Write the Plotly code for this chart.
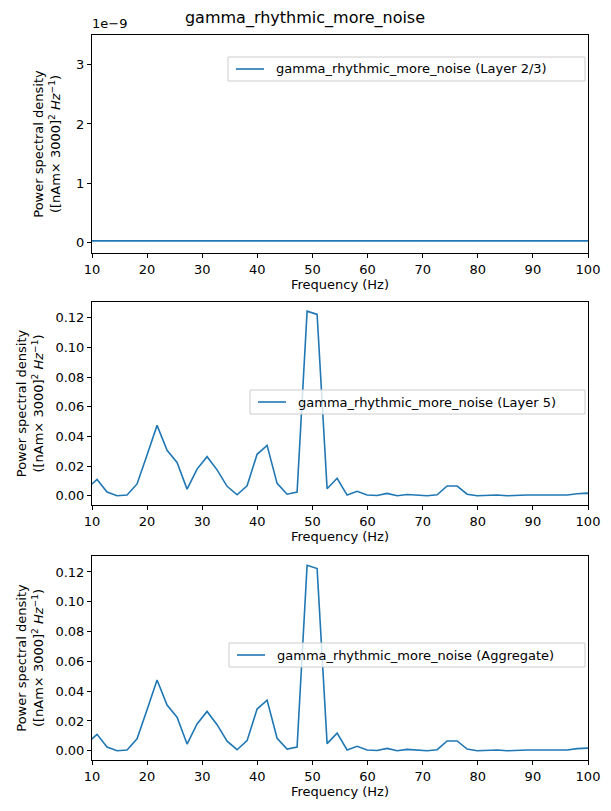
import plotly.graph_objects as go

freqs = [9.1 + 1.815 * k for k in range(52)]
psd_l5 = [0.005, 0.011, 0.0025, 0.0, 0.0005, 0.008, 0.0275, 0.0475, 0.0307, 0.0225,
          0.0045, 0.018, 0.0264, 0.0175, 0.0064, 0.0007, 0.0068, 0.028, 0.034, 0.0084,
          0.0011, 0.0025, 0.1245, 0.1223, 0.0048, 0.0118, 0.0005, 0.003, 0.0005, 0.0002,
          0.0016, 0.0, 0.0009, 0.0005, 0.0, 0.0007, 0.0066, 0.0066, 0.0011, 0.0,
          0.0002, 0.0005, 0.0, 0.0005, 0.0005, 0.0005, 0.0005, 0.0005, 0.0005, 0.0014,
          0.0018, 0.0]
psd_l23 = [0.03e-9] * 52
psd_agg = psd_l5
names = ["gamma_rhythmic_more_noise (Layer 2/3)", "gamma_rhythmic_more_noise (Layer 5)",
         "gamma_rhythmic_more_noise (Aggregate)"]

OFF = 8
W, H = 595, 795
def px(x):
    return (x - OFF) / W
def py(y):
    return 1 - (y - OFF) / H

blue = "#1f77b4"
fig = go.Figure()
panels = [(35, 253), (302, 505), (556, 760)]
data = [psd_l23, psd_l5, psd_agg]
ytitle = "Power spectral density<br>([nAm× 3000]<sup>2</sup> <i>Hz</i><sup>−1</sup>)"
font = dict(family="DejaVu Sans", size=13, color="black")
axcommon = dict(showline=True, mirror=True, linecolor="black", linewidth=1, ticks="outside",
                ticklen=4, tickcolor="black", showgrid=False, zeroline=False, tickfont=font,
                automargin=False)
for i, (top, bot) in enumerate(panels):
    xa = "x" if i == 0 else f"x{i+1}"
    ya = "y" if i == 0 else f"y{i+1}"
    fig.add_trace(go.Scatter(x=freqs, y=data[i], mode="lines", line=dict(color=blue, width=1.6),
                             xaxis=xa, yaxis=ya, showlegend=False, cliponaxis=True))
    dom_y = [py(bot), py(top)]
    xk = "xaxis" if i == 0 else f"xaxis{i+1}"
    yk = "yaxis" if i == 0 else f"yaxis{i+1}"
    fig.layout[xk] = dict(domain=[px(92), px(588)], range=[10, 100], anchor=ya,
                          tickvals=list(range(10, 101, 10)),
                          title=dict(text="Frequency (Hz)", font=font, standoff=2), **axcommon)
    if i == 0:
        fig.layout[yk] = dict(domain=dom_y, range=[-0.175e-9, 3.5e-9], anchor=xa,
                              tickvals=[0, 1e-9, 2e-9, 3e-9], ticktext=["0", "1", "2", "3"],
                              title=dict(text=ytitle, font=font, standoff=12), **axcommon)
    else:
        fig.layout[yk] = dict(domain=dom_y, range=[-0.0062, 0.1307], anchor=xa,
                              tickvals=[0, 0.02, 0.04, 0.06, 0.08, 0.1, 0.12], tickformat=".2f",
                              title=dict(text=ytitle, font=font, standoff=8), **axcommon)

legs = [(228, 57), (250, 390), (229, 643)]
for (lx, ly), name in zip(legs, names):
    fig.add_shape(type="rect", xref="paper", yref="paper", x0=px(lx), x1=px(585),
                  y0=py(ly + 24), y1=py(ly), line=dict(color="#cccccc", width=1),
                  fillcolor="rgba(255,255,255,0.8)")
    fig.add_shape(type="line", xref="paper", yref="paper", x0=px(lx + 8), x1=px(lx + 36),
                  y0=py(ly + 12), y1=py(ly + 12), line=dict(color=blue, width=1.6))
    fig.add_annotation(xref="paper", yref="paper", x=px(lx + 46), y=py(ly + 12),
                       text=name, showarrow=False, xanchor="left", yanchor="middle", font=font)

fig.add_annotation(xref="paper", yref="paper", x=px(90), y=py(33), text="1e−9",
                   showarrow=False, xanchor="left", yanchor="bottom", font=font)
fig.update_layout(width=W, height=H, margin=dict(l=0, r=0, t=0, b=0),
                  paper_bgcolor="white", plot_bgcolor="white", font=font,
                  title=dict(text="gamma_rhythmic_more_noise", x=px(305), y=py(17),
                             xanchor="center", yanchor="middle",
                             font=dict(family="DejaVu Sans", size=16, color="black")))
fig.write_html("out.html")
